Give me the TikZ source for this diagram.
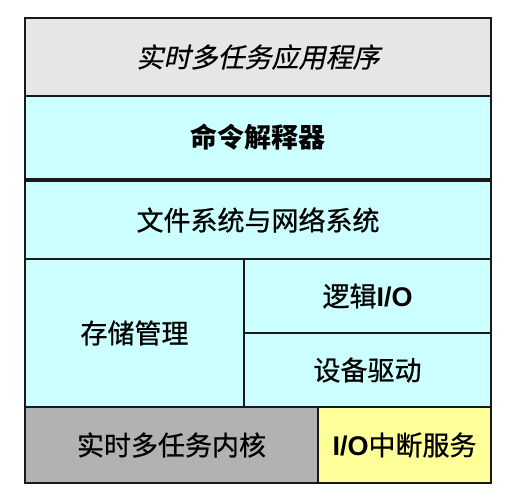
\documentclass[tikz,border=0pt]{standalone}
\usepackage{fontspec}
\setmainfont{Noto Sans CJK SC}
\newfontfamily\cjkmed[FakeBold=0.7]{Noto Sans CJK SC}
\newfontfamily\cjkslant[FakeSlant=0.22,FakeBold=0.5]{Noto Sans CJK SC}
\newfontfamily\latinfont{Liberation Sans}
\definecolor{appgray}{HTML}{E6E6E6}
\definecolor{layercyan}{HTML}{CCFFFF}
\definecolor{kernelgray}{HTML}{B2B2B2}
\definecolor{isryellow}{HTML}{FFFF99}
\tikzset{layer/.style={rectangle, draw=black!90, line width=1.3pt, inner sep=0pt, outer sep=0pt,
		fill=layercyan, font=\fontsize{27}{31}\selectfont\cjkmed},
	layer/.default={}}
\newcommand{\iobold}{{\latinfont\bfseries I/O}}

\begin{document}
\begin{tikzpicture}[x=1pt,y=-1pt]
	\useasboundingbox (0,0) rectangle (514,498); %fixes the page size
	\node[layer, fill=appgray, minimum width=466pt, minimum height=78pt] (app) at (258,57) {\cjkslant 实时多任务应用程序}; %top layer
	\node[layer, minimum width=466pt, minimum height=83pt] (shell) at (258,137.5) {\normalfont\fontsize{27}{31}\selectfont\bfseries 命令解释器};
	\node[layer, minimum width=466pt, minimum height=78pt] (fsnet) at (258,220) {文件系统与网络系统};
	\node[layer, minimum width=219pt, minimum height=148pt] (mem) at (134.5,333) {存储管理}; %left block
	\node[layer, minimum width=247pt, minimum height=74pt] (logio) at (367.5,296) {逻辑\iobold};
	\node[layer, minimum width=247pt, minimum height=74pt] (drv) at (367.5,370) {设备驱动};
	\node[layer, fill=kernelgray, minimum width=293pt, minimum height=76pt] (kernel) at (171.5,445) {实时多任务内核}; %bottom row
	\node[layer, fill=isryellow, minimum width=173pt, minimum height=76pt] (isr) at (404.5,445) {\iobold 中断服务};
\end{tikzpicture}
\end{document}
